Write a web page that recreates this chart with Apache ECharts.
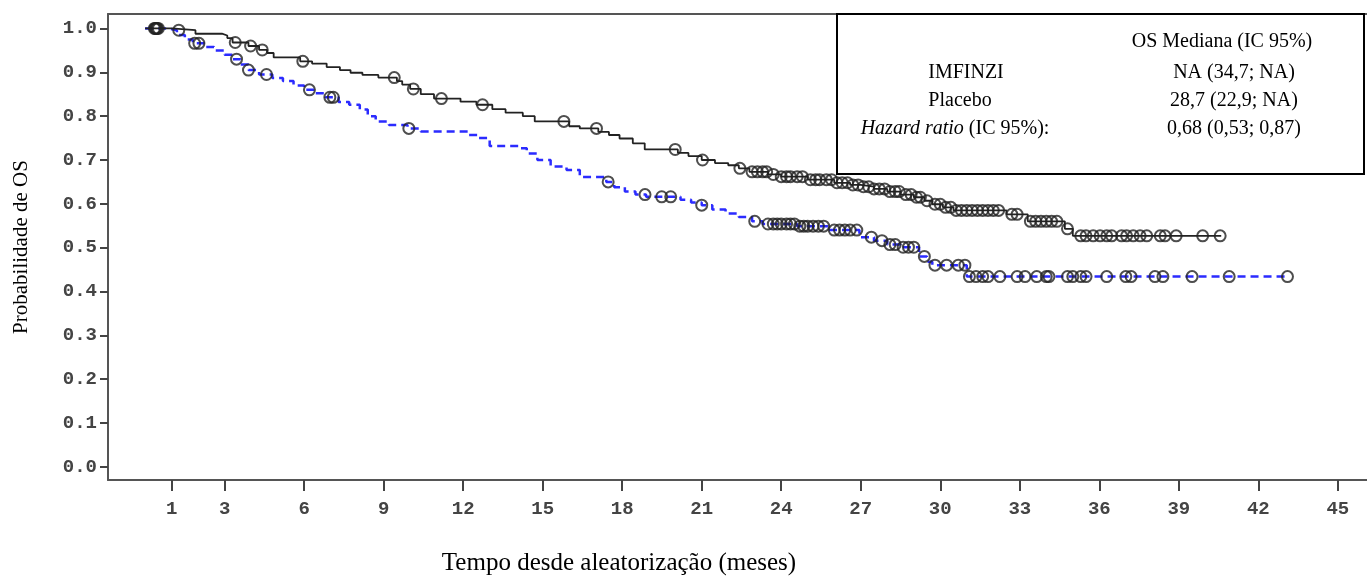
<!DOCTYPE html>
<html>
<head>
<meta charset="utf-8">
<title>Probabilidade de OS</title>
<script src="https://cdn.jsdelivr.net/npm/echarts@6/dist/echarts.min.js"></script>
<style>
  html, body { margin: 0; padding: 0; background: #fff; }
  #chart { width: 1367px; height: 583px; }
</style>
</head>
<body>
<div id="chart"></div>
<script>
// tick labels
const xTicks = [1, 3, 6, 9, 12, 15, 18, 21, 24, 27, 30, 33, 36, 39, 42, 45];
const yTicks = [0, 0.1, 0.2, 0.3, 0.4, 0.5, 0.6, 0.7, 0.8, 0.9, 1.0];

// Kaplan-Meier steps [months, survival]
const imfinziSteps = [
  [0, 1.000], [1.0, 0.996], [1.9, 0.988], [2.9, 0.984], [3.1, 0.978], [3.3, 0.968],
  [3.9, 0.960], [4.3, 0.951], [4.6, 0.944], [4.85, 0.934], [5.85, 0.925], [6.3, 0.920],
  [6.85, 0.912], [7.35, 0.905], [7.75, 0.899], [8.2, 0.894], [8.8, 0.888], [9.5, 0.880],
  [9.7, 0.872], [10.0, 0.862], [10.4, 0.850], [10.9, 0.840], [11.9, 0.833], [12.5, 0.826],
  [13.1, 0.816], [13.6, 0.808], [14.25, 0.800], [14.7, 0.788], [16.0, 0.777], [16.4, 0.772],
  [17.1, 0.764], [17.5, 0.757], [17.9, 0.749], [18.4, 0.738], [18.85, 0.724], [20.1, 0.716],
  [20.5, 0.709], [21.0, 0.700], [21.5, 0.693], [22.0, 0.688], [22.4, 0.681], [22.8, 0.673],
  [23.5, 0.667], [24.0, 0.662], [25.0, 0.655], [26.0, 0.648], [26.6, 0.643], [27.0, 0.639],
  [27.5, 0.634], [28.0, 0.628], [28.5, 0.621], [29.0, 0.615], [29.4, 0.607], [29.7, 0.599],
  [30.1, 0.592], [30.5, 0.585], [32.5, 0.576], [33.3, 0.560], [34.7, 0.543], [35.0, 0.527],
  [40.6, 0.527]
];
const placeboSteps = [
  [0, 1.000], [0.9, 0.996], [1.2, 0.985], [1.5, 0.975], [1.8, 0.966], [2.3, 0.958],
  [2.6, 0.950], [3.0, 0.940], [3.3, 0.930], [3.6, 0.918], [3.9, 0.905], [4.3, 0.895],
  [4.8, 0.887], [5.2, 0.880], [5.6, 0.870], [6.0, 0.860], [6.4, 0.852], [6.8, 0.843],
  [7.3, 0.832], [7.7, 0.826], [8.1, 0.815], [8.4, 0.800], [8.7, 0.788], [9.2, 0.780],
  [9.9, 0.772], [10.4, 0.765], [12.2, 0.757], [12.6, 0.750], [13.0, 0.732], [14.1, 0.727],
  [14.4, 0.715], [14.8, 0.700], [15.3, 0.685], [15.9, 0.677], [16.4, 0.661], [17.4, 0.650],
  [17.7, 0.638], [18.1, 0.628], [18.5, 0.621], [18.9, 0.616], [20.2, 0.609], [20.6, 0.603],
  [21.0, 0.597], [21.4, 0.587], [21.9, 0.578], [22.4, 0.570], [22.9, 0.560], [23.3, 0.554],
  [24.6, 0.549], [25.8, 0.540], [26.95, 0.524], [27.5, 0.516], [28.0, 0.507], [28.5, 0.501],
  [29.2, 0.480], [29.5, 0.468], [29.7, 0.460], [31.0, 0.434], [43.1, 0.434]
];

// censored times (months)
const imfinziCensored = [
  0.35, 0.42, 0.5, 1.27, 3.4, 3.98, 4.42, 5.95, 9.4, 10.12, 11.18, 12.73, 15.8, 17.03,
  20.0, 21.03, 22.44, 22.9, 23.1, 23.3, 23.45, 23.7, 24.0, 24.2, 24.35, 24.6, 24.8, 25.1,
  25.3, 25.45, 25.7, 25.9, 26.1, 26.3, 26.5, 26.7, 26.9, 27.1, 27.3, 27.5, 27.7, 27.9,
  28.1, 28.3, 28.45, 28.7, 28.9, 29.1, 29.25, 29.5, 29.8, 30.0, 30.2, 30.4, 30.6, 30.8,
  31.0, 31.2, 31.4, 31.6, 31.8, 32.0, 32.2, 32.7, 32.9, 33.4, 33.6, 33.8, 34.0, 34.2,
  34.4, 34.8, 35.3, 35.5, 35.77, 36.03, 36.28, 36.47, 36.84, 37.03, 37.28, 37.54, 37.79,
  38.3, 38.48, 38.9, 39.9, 40.56
];
const placeboCensored = [
  0.38, 0.45, 1.87, 2.03, 3.45, 3.9, 4.58, 6.2, 6.97, 7.1, 9.95, 17.47, 18.86, 19.49,
  19.83, 21.0, 23.0, 23.5, 23.7, 23.85, 24.0, 24.2, 24.35, 24.5, 24.7, 24.85, 25.0, 25.2,
  25.4, 25.6, 26.0, 26.2, 26.4, 26.6, 26.85, 27.4, 27.8, 28.1, 28.3, 28.6, 28.8, 29.0,
  29.4, 29.8, 30.24, 30.68, 30.93, 31.1, 31.35, 31.6, 31.8, 32.25, 32.9, 33.2, 33.64,
  34.0, 34.1, 34.8, 35.0, 35.3, 35.5, 36.28, 37.0, 37.2, 38.1, 38.4, 39.5, 40.9, 43.1
];

// summary table in the box
const tableHeader = 'OS Mediana (IC 95%)';
const tableLabels = ['IMFINZI', 'Placebo', '{i|Hazard ratio} (IC 95%):'];
const tableValues = ['NA (34,7; NA)', '28,7 (22,9; NA)', '0,68 (0,53; 0,87)'];

const serif = '"Liberation Serif", "Times New Roman", serif';
const mono = '"Liberation Mono", "Courier New", monospace';

function survivalAt(steps, t) {
  let s = steps[0][1];
  for (const p of steps) {
    if (p[0] <= t) s = p[1];
    else break;
  }
  return s;
}

const rowY = [42, 73, 101, 129];
const labelX = [966, 960, 955];
const boxTexts = [
  { type: 'text', x: 1222, y: rowY[0], z: 11,
    style: { text: tableHeader, font: '20px ' + serif, fill: '#000', align: 'center', verticalAlign: 'middle' } }
];
tableLabels.forEach((label, i) => {
  boxTexts.push({
    type: 'text', x: labelX[i], y: rowY[i + 1], z: 11,
    style: {
      text: label, font: '20px ' + serif, fill: '#000', align: 'center', verticalAlign: 'middle',
      rich: { i: { fontStyle: 'italic', fontSize: 20, fontFamily: serif, fill: '#000' } }
    }
  });
  boxTexts.push({
    type: 'text', x: 1234, y: rowY[i + 1], z: 11,
    style: { text: tableValues[i], font: '20px ' + serif, fill: '#000', align: 'center', verticalAlign: 'middle' }
  });
});

const chart = echarts.init(document.getElementById('chart'));
chart.setOption({
  animation: false,
  grid: { left: 108, right: 0, top: 14, bottom: 103 },
  xAxis: [
    {
      type: 'value', min: -1.4, max: 46.1, position: 'bottom',
      splitLine: { show: false },
      axisLine: { onZero: false, lineStyle: { color: '#555', width: 2 } },
      axisTick: { customValues: xTicks, length: 11, lineStyle: { color: '#444', width: 2 } },
      axisLabel: { customValues: xTicks, margin: 20, color: '#444', fontFamily: mono, fontSize: 19, fontWeight: 'bold' }
    },
    {
      type: 'value', min: -1.4, max: 46.1, position: 'top',
      splitLine: { show: false },
      axisLine: { onZero: false, lineStyle: { color: '#555', width: 2 } },
      axisTick: { show: false },
      axisLabel: { show: false }
    }
  ],
  yAxis: {
    type: 'value', min: -0.03, max: 1.033,
    name: 'Probabilidade de OS', nameLocation: 'middle', nameGap: 76, nameRotate: 90,
    nameTextStyle: { fontFamily: serif, fontSize: 21, color: '#000' },
    splitLine: { show: false },
    axisLine: { onZero: false, lineStyle: { color: '#555', width: 2 } },
    axisTick: { customValues: yTicks, length: 8, lineStyle: { color: '#444', width: 2 } },
    axisLabel: {
      customValues: yTicks, margin: 11, color: '#444', fontFamily: mono, fontSize: 19, fontWeight: 'bold',
      formatter: (v) => v.toFixed(1)
    }
  },
  graphic: [
    { type: 'rect', left: 836, top: 13, z: 10,
      shape: { width: 527, height: 160 }, style: { fill: '#fff', stroke: '#000', lineWidth: 2 } },
    ...boxTexts,
    { type: 'text', x: 619, y: 563, z: 11,
      style: { text: 'Tempo desde aleatorização (meses)', font: '25px ' + serif, fill: '#000', align: 'center', verticalAlign: 'middle' } }
  ],
  series: [
    {
      name: 'Placebo', type: 'line', step: 'end', data: placeboSteps, showSymbol: false,
      lineStyle: { color: '#2b2bff', width: 2.5, type: [8, 5] }, z: 2
    },
    {
      name: 'IMFINZI', type: 'line', step: 'end', data: imfinziSteps, showSymbol: false,
      lineStyle: { color: '#222', width: 1.8 }, z: 3
    },
    {
      name: 'Placebo censurado', type: 'scatter', symbol: 'circle', symbolSize: 11, z: 4,
      data: placeboCensored.map((t) => [t, survivalAt(placeboSteps, t)]),
      itemStyle: { color: 'rgba(0,0,0,0)', borderColor: '#222', borderWidth: 2 }
    },
    {
      name: 'IMFINZI censurado', type: 'scatter', symbol: 'circle', symbolSize: 11, z: 4,
      data: imfinziCensored.map((t) => [t, survivalAt(imfinziSteps, t)]),
      itemStyle: { color: 'rgba(0,0,0,0)', borderColor: '#222', borderWidth: 2 }
    }
  ]
});
</script>
</body>
</html>
